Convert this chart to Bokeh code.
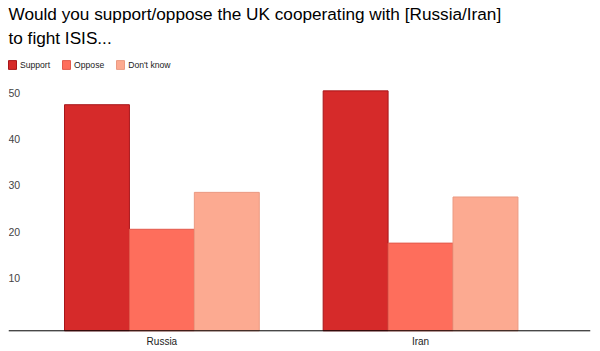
from bokeh.plotting import figure
from bokeh.models import (ColumnDataSource, Range1d, FixedTicker, Legend, LegendItem,
                          Title, LinearAxis, Span)
from bokeh.transform import dodge
from bokeh.core.properties import value
from bokeh.embed import file_html
from bokeh.resources import INLINE

title_line1 = "Would you support/oppose the UK cooperating with [Russia/Iran]"
title_line2 = "to fight ISIS..."
categories = ["Russia", "Iran"]
series_names = ["Support", "Oppose", "Don't know"]
support = [49, 52]
oppose = [22, 19]
dont_know = [30, 29]
y_ticks = [10, 20, 30, 40, 50]
grid_ticks = [10, 20, 30, 40]

FONT = "Liberation Sans"
fills = ["#d62a2a", "#fe6e5c", "#fcaa91"]
borders = ["#a8161a", "#e25a4c", "#eb9a82"]

xs = list(range(len(categories)))
src = ColumnDataSource(dict(x=xs, support=support, oppose=oppose, dont_know=dont_know))

x_range = Range1d(-0.593, 1.657)
y_range = Range1d(-4.49, 61.4)

p = figure(width=600, height=351, x_range=x_range, y_range=y_range,
           output_backend="svg", toolbar_location=None,
           min_border_left=8, min_border_right=10, min_border_top=0, min_border_bottom=0,
           x_axis_type=None, y_axis_type=None)
p.outline_line_color = None
p.background_fill_color = "white"
p.border_fill_color = "white"

# y grid via an invisible y axis
yax = LinearAxis(ticker=FixedTicker(ticks=grid_ticks), visible=False)
p.add_layout(yax, "left")
p.ygrid.ticker = FixedTicker(ticks=grid_ticks)
p.ygrid.grid_line_color = "#cccccc"
p.ygrid.grid_line_width = 1

cols = ["support", "oppose", "dont_know"]
offsets = [-0.251, 0.0, 0.251]
renderers = []
for col, off, fc, bc in zip(cols, offsets, fills, borders):
    r = p.vbar(x=dodge("x", off), top=col, bottom=0, width=0.251, source=src,
               fill_color=fc, line_color=bc, line_width=1)
    renderers.append(r)

# baseline (x axis line)
p.add_layout(Span(location=0, dimension="width", line_color="black", line_width=1))

# category labels below the baseline
cat_src = ColumnDataSource(dict(x=xs, y=[0] * len(xs), t=categories))
p.text(x="x", y="y", text="t", source=cat_src, text_font=value(FONT),
       text_font_size="10px", text_color="#222222", text_baseline="middle",
       text_align="center", y_offset=11)

# y tick labels inside the plot area, above their gridlines
lab_src = ColumnDataSource(dict(x=[x_range.start] * len(y_ticks), y=y_ticks,
                                t=[str(v) for v in y_ticks]))
p.text(x="x", y="y", text="t", source=lab_src, text_font=value(FONT),
       text_font_size="10.5px", text_color="#444444", text_baseline="bottom",
       text_align="left", y_offset=-3, x_offset=0)

legend = Legend(items=[LegendItem(label=n, renderers=[r]) for n, r in zip(series_names, renderers)],
                orientation="horizontal", location=(-1, 281))
legend.label_text_font = FONT
legend.label_text_font_size = "8.6px"
legend.label_text_color = "#222222"
legend.glyph_width = 10
legend.glyph_height = 11
legend.label_height = 11
legend.label_standoff = 3
legend.spacing = 11
legend.padding = 0
legend.margin = 0
legend.border_line_color = None
legend.background_fill_alpha = 0
p.add_layout(legend, "center")

t2 = Title(text=title_line2, text_font=FONT, text_font_size="17.2px",
           text_font_style="normal", text_color="black", align="left", standoff=0)
t1 = Title(text=title_line1, text_font=FONT, text_font_size="17.2px",
           text_font_style="normal", text_color="black", align="left", standoff=3)
p.add_layout(t2, "above")
p.add_layout(t1, "above")

open("out.html", "w").write(file_html(p, INLINE))
